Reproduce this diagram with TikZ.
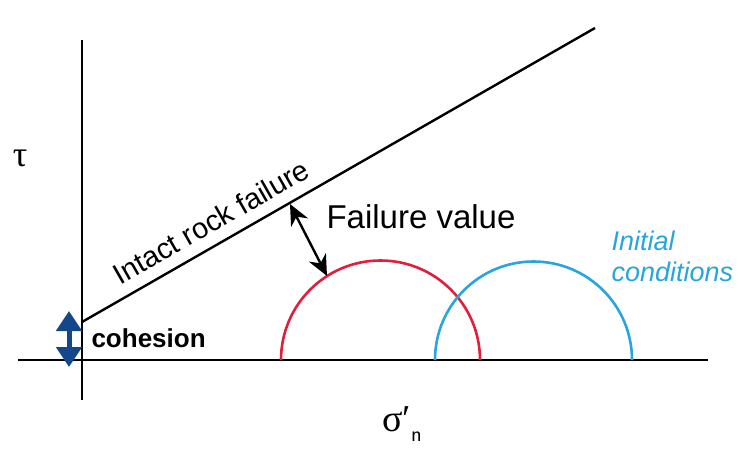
\documentclass[tikz,border=0pt]{standalone}
\usepackage{fontspec}
\setmainfont{Liberation Sans}
\newfontfamily\grkfont{Liberation Serif}
\usetikzlibrary{arrows.meta}
\definecolor{failred}{RGB}{226,30,58}
\definecolor{initblue}{RGB}{40,165,220}
\definecolor{cohblue}{RGB}{20,70,140}
\begin{document}
\begin{tikzpicture}[
x=1pt, y=-1pt,
axis/.style={line width=2.6pt},
mohr/.style={line width=2.6pt},
]
  \useasboundingbox (0,0) rectangle (739,452);
  % axes
  \coordinate (ytop) at (82,40);
  \coordinate (ybot) at (82,400);
  \coordinate (xleft) at (18,360);
  \coordinate (xright) at (708,360);
  \draw[axis] (ytop) -- (ybot);
  \draw[axis] (xleft) -- (xright);
  \node[font=\grkfont\fontsize{36}{36}\selectfont] (tau) at (20,158) {τ};
  \node[font=\grkfont\fontsize{38}{38}\selectfont] (sig) at (402,424)
    {σ′\raisebox{-10pt}{\sffamily\fontsize{22}{22}\selectfont n}};
  % failure envelope
  \coordinate (c0) at (82,322);
  \coordinate (ftop) at (595,28);
  \draw[line width=2.4pt] (c0) -- (ftop);
  \node[rotate=29.8, font=\fontsize{29}{29}\selectfont] (envtxt) at (211,222) {Intact rock failure};
  % cohesion
  \coordinate (cohup) at (69,311);
  \coordinate (cohdn) at (69,367);
  \draw[cohblue, line width=5pt, {Triangle[width=25pt,length=20pt]}-{Triangle[width=25pt,length=20pt]}] (cohdn) -- (cohup);
  \node[font=\bfseries\fontsize{26}{26}\selectfont, anchor=west] (coh) at (88,338) {cohesion};
  % Mohr circles
  \draw[mohr, failred] (281,360) arc[start angle=180, end angle=360, radius=99.5];
  \draw[mohr, initblue] (435,360) arc[start angle=180, end angle=360, radius=98.5];
  \node[initblue, font=\itshape\fontsize{27}{31}\selectfont, align=left, anchor=west] (init) at (608,256) {Initial\\conditions};
  % failure value
  \coordinate (fvtop) at (290,204);
  \coordinate (fvbot) at (327,276);
  \draw[line width=2.4pt, {Stealth[length=21pt,width=19pt]}-{Stealth[length=21pt,width=19pt]}] (fvtop) -- (fvbot);
  \node[font=\fontsize{33}{33}\selectfont, anchor=west] (fvtxt) at (323,217) {Failure value};
\end{tikzpicture}
\end{document}
